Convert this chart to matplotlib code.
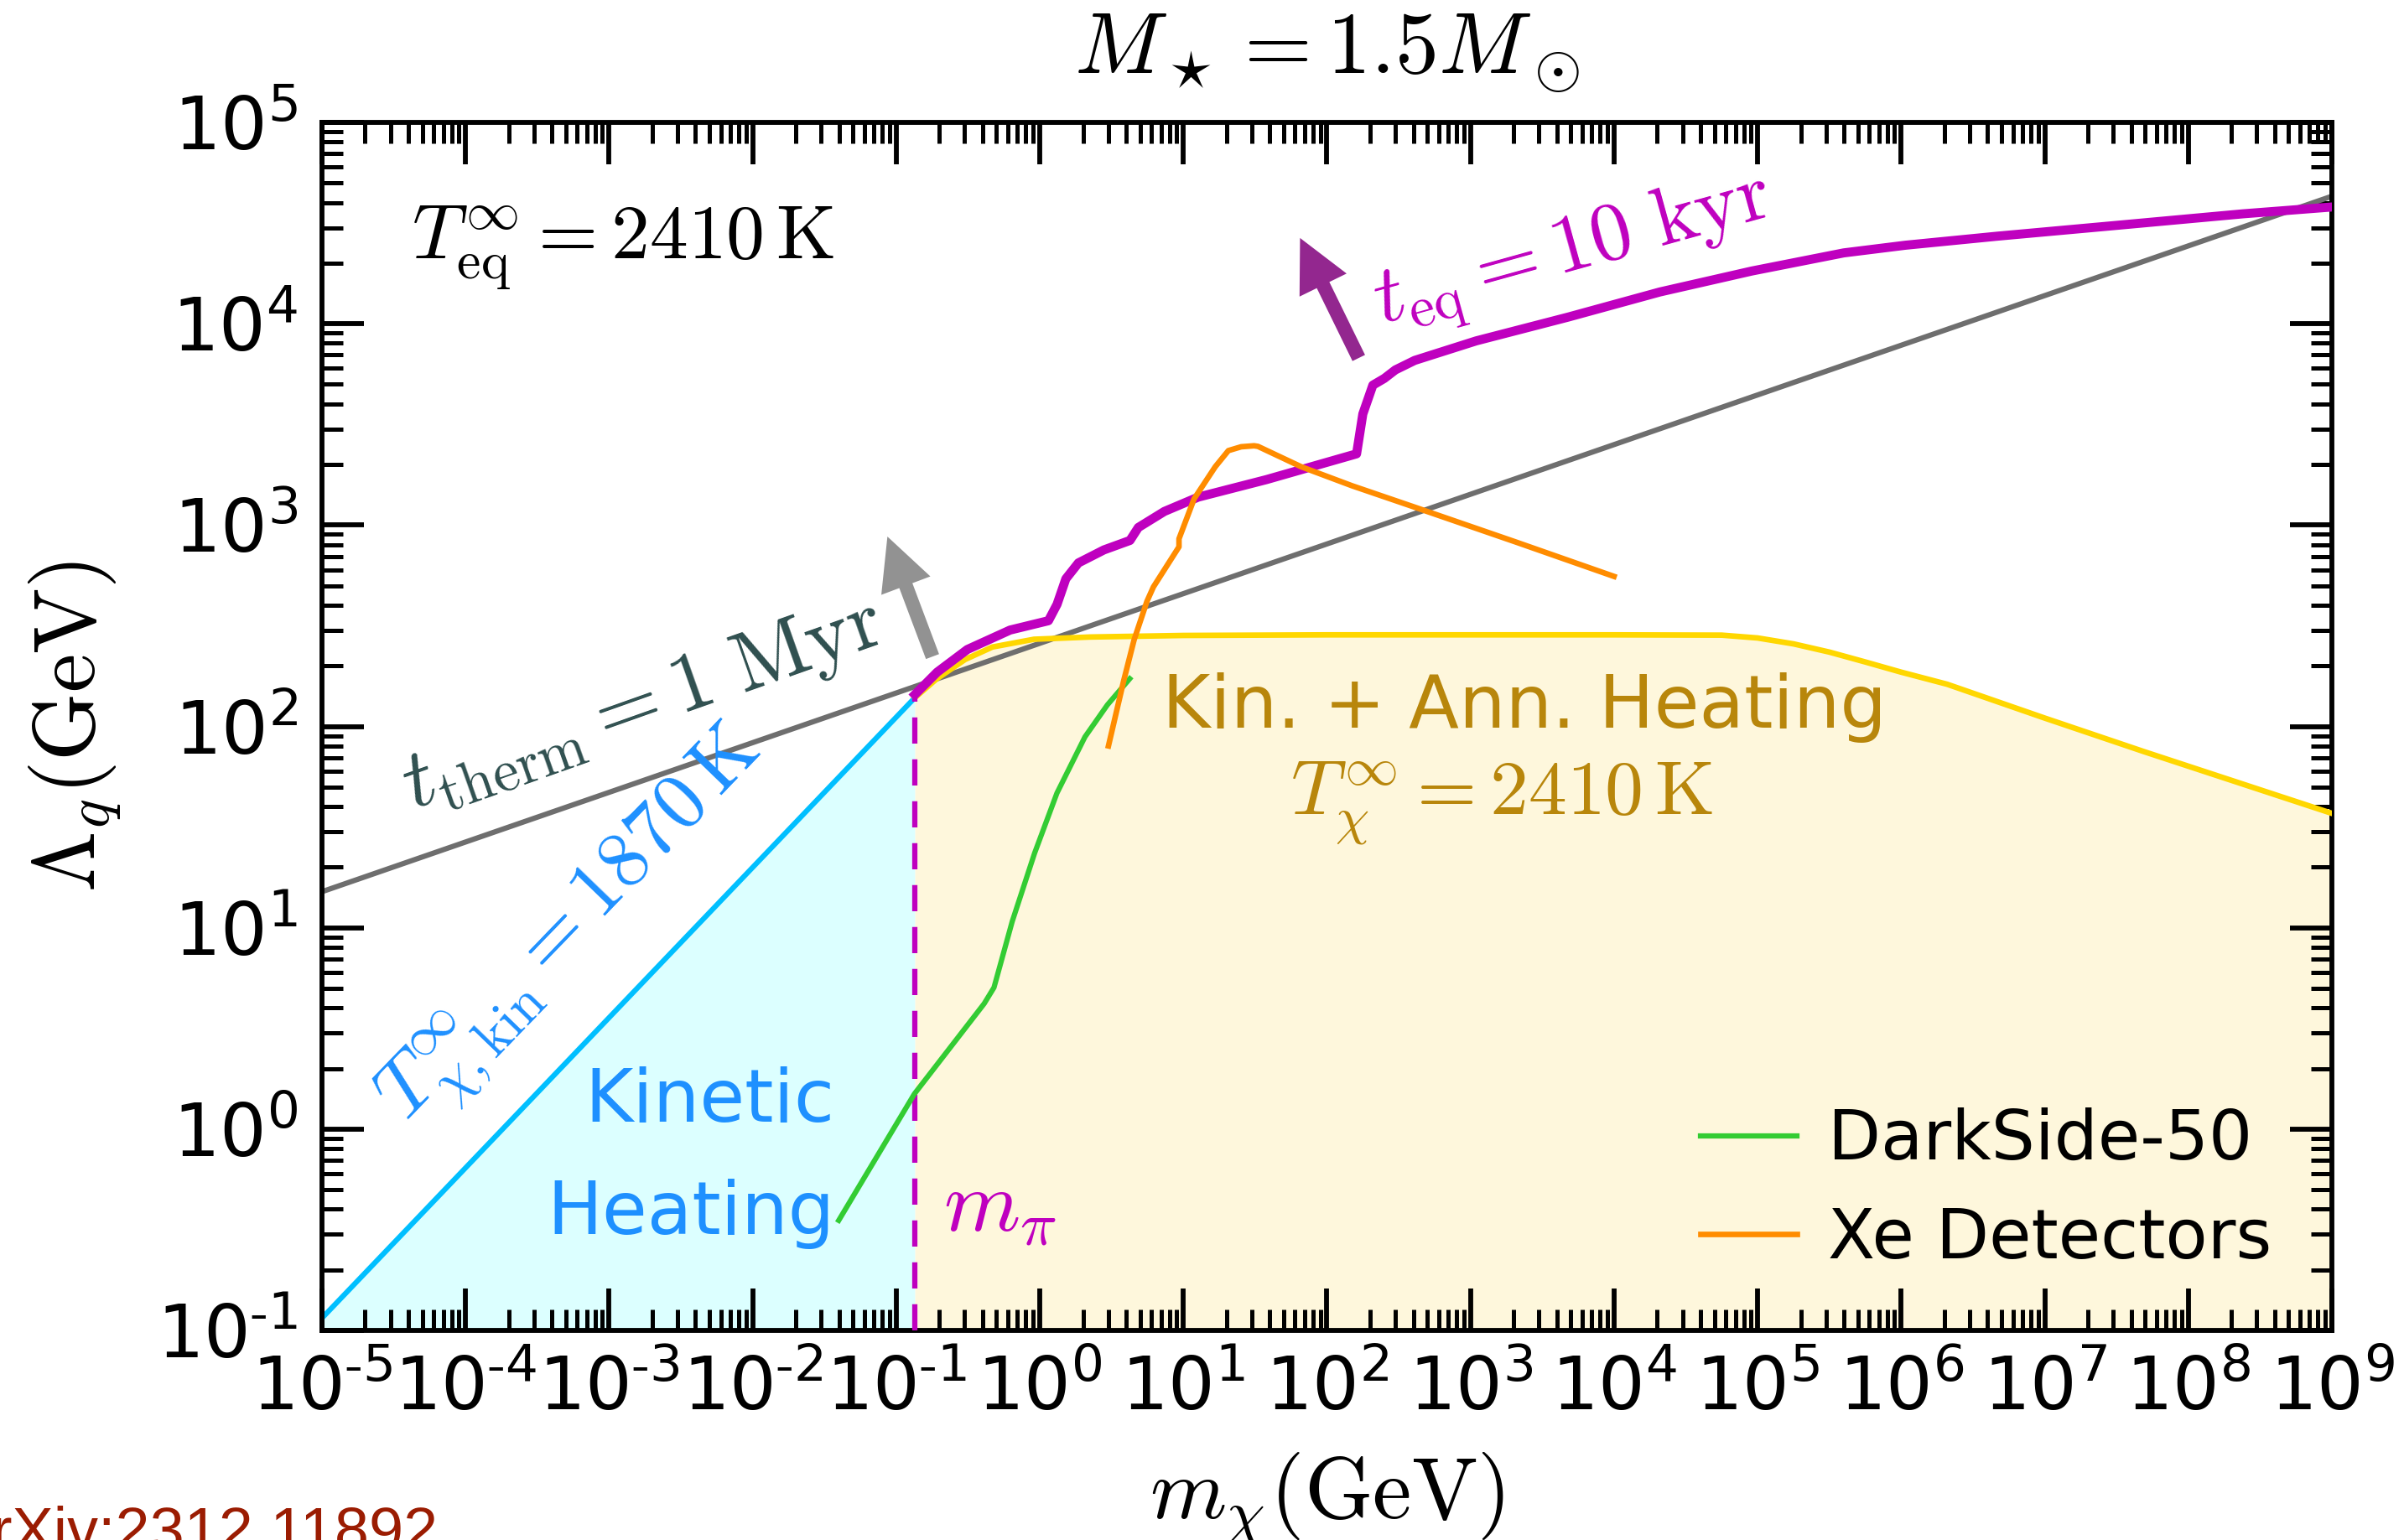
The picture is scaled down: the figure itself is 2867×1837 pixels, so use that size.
import numpy as np
import matplotlib
matplotlib.use('Agg')
import matplotlib.pyplot as plt
from matplotlib.ticker import LogLocator, FuncFormatter, NullFormatter

plt.rcParams['mathtext.fontset'] = 'cm'
plt.rcParams['font.family'] = 'DejaVu Sans'

# pion mass threshold (GeV)
m_pi = 0.135

# t_therm = 1 Myr line
therm_x = [1e-5, 1e9]
therm_y = [15.1, 4.3e4]

# kinetic heating boundary, T_kin = 1870 K
kin_x = [1e-5, m_pi]
kin_y = [0.115, 139]

# kinetic + annihilation heating boundary
ann_x = [m_pi, 0.191, 0.302, 0.468, 0.912, 2.24, 10, 100, 1e4, 5.62e4, 1e5,
         1.78e5, 3.16e5, 5.62e5, 1e6, 2.09e6, 1e7, 4.9e7, 1e9]
ann_y = [139, 172, 215, 248, 271, 278, 283, 285, 285, 284, 275,
         257, 234, 209, 186, 162, 110, 75, 37]

# t_eq = 10 kyr curve
teq_x = [m_pi, 0.193, 0.313, 0.621, 1.15, 1.32, 1.52, 1.86, 2.80, 4.25, 4.86,
         7.38, 12.7, 38.0, 161, 178, 209, 251, 300, 409, 1096, 4786,
         2.09e4, 9.12e4, 3.98e5, 1.07e6, 4.68e6, 3.31e7, 2.4e8, 1e9]
teq_y = [144, 186, 241, 301, 335, 404, 541, 649, 753, 839, 973,
         1169, 1377, 1683, 2259, 3565, 4955, 5350, 5900, 6577, 8222, 10790,
         14390, 18280, 22490, 24550, 27230, 30900, 35160, 38020]

# DarkSide-50 limit
ds_x = [0.0398, 0.134, 0.410, 0.480, 0.643, 0.920, 1.318, 2.065, 2.958, 4.236]
ds_y = [0.352, 1.496, 4.198, 5.047, 10.74, 23.44, 46.67, 88.72, 127.9, 172.6]

# Xe detector limits
xe_x = [3.01, 3.83, 4.54, 5.58, 6.19, 9.33, 9.33, 11.9, 16.7, 20.6, 25.3,
        31.1, 33.1, 66.1, 150, 432, 2070, 1e4]
xe_y = [80, 167, 269, 418, 493, 780, 855, 1352, 1950, 2344, 2449,
        2477, 2460, 1950, 1567, 1211, 824, 556]

y_min, y_max = 0.1, 1e5
x_min, x_max = 1e-5, 1e9

fig = plt.figure(figsize=(2867 / 300, 1837 / 300), dpi=300)
ax = fig.add_axes([0.1339, 0.1361, 0.8361, 0.7844])

ax.fill_between(kin_x, y_min, kin_y, color='#dcffff', lw=0, zorder=0)
ax.fill_between(ann_x, y_min, ann_y, color='#fef7dc', lw=0, zorder=0)

ax.plot(therm_x, therm_y, color='#6e6e6e', lw=1.5, zorder=2)
ax.plot(kin_x, kin_y, color='#00bfff', lw=1.5, zorder=2)
ax.plot(ann_x, ann_y, color='gold', lw=1.6, zorder=3)
ax.plot(teq_x, teq_y, color='m', lw=2.6, zorder=4)
ax.plot([m_pi, m_pi], [y_min, teq_y[0]], color='m', lw=1.5, ls=(0, (5, 3)), zorder=4)
l_ds, = ax.plot(ds_x, ds_y, color='#33cc33', lw=1.5, zorder=5, label='DarkSide-50')
l_xe, = ax.plot(xe_x, xe_y, color='darkorange', lw=1.6, zorder=5, label='Xe Detectors')

# arrows showing the direction of faster thermalisation
ax.annotate('', xy=(10**-1.061, 10**2.943), xytext=(10**-0.747, 10**2.347),
            arrowprops=dict(width=4, headwidth=15, headlength=15, shrink=0,
                            color='#929292', lw=0), zorder=6)
ax.annotate('', xy=(10**1.813, 10**4.426), xytext=(10**2.222, 10**3.83),
            arrowprops=dict(width=4, headwidth=15, headlength=15, shrink=0,
                            color='#93278f', lw=0), zorder=6)

ax.set_xscale('log')
ax.set_yscale('log')
ax.set_xlim(x_min, x_max)
ax.set_ylim(y_min, y_max)


def pow_label(v, pos):
    e = int(round(np.log10(v)))
    if e < 0:
        return r'$\mathregular{10^{\text{-}%d}}$' % (-e)
    return r'$\mathregular{10^{%d}}$' % e


for axis in (ax.xaxis, ax.yaxis):
    axis.set_major_locator(LogLocator(base=10, numticks=40))
    axis.set_minor_locator(LogLocator(base=10, subs=np.arange(2, 10), numticks=40))
    axis.set_major_formatter(FuncFormatter(pow_label))
    axis.set_minor_formatter(NullFormatter())

ax.tick_params(which='both', direction='in', top=True, right=True, labelsize=21)
ax.tick_params(which='major', length=12, width=1.4, pad=7)
ax.tick_params(which='minor', length=6, width=1.2)
for s in ax.spines.values():
    s.set_linewidth(1.4)

ax.set_xlabel(r'$m_\chi({\rm GeV})$', fontsize=25)
ax.set_ylabel(r'$\Lambda_q({\rm GeV})$', fontsize=25)
ax.xaxis.set_label_coords(0.5, -0.1)
ax.yaxis.set_label_coords(-0.099, 0.5)
ax.set_title(r'$M_\star = 1.5 M_\odot$', fontsize=25, pad=14)

# annotations
ax.text(0.0446, 0.8866, r'$T^\infty_{\rm eq} = 2410\,{\rm K}$', transform=ax.transAxes,
        fontsize=22, ha='left', va='baseline')
ax.text(10**-2.762, 10**2.107, r'$t_{\rm therm} = 1\ {\rm Myr}$', color='#2f4f4f',
        fontsize=24, rotation=19.5, rotation_mode='anchor', ha='center', va='center')
ax.text(10**-3.226, 10**0.985, r'$T^\infty_{\chi,{\rm kin}} = 1870\,{\rm K}$', color='#1e90ff',
        fontsize=23, rotation=46, rotation_mode='anchor', ha='center', va='center')
ax.text(10**-1.429, 10**0.0375, 'Kinetic', color='#1e90ff', fontsize=21,
        ha='right', va='baseline')
ax.text(10**-1.429, 10**-0.52, 'Heating', color='#1e90ff', fontsize=21,
        ha='right', va='baseline')
ax.text(10**3.375, 10**1.994, 'Kin. + Ann. Heating', color='#b8860b', fontsize=21,
        ha='center', va='baseline')
ax.text(10**3.217, 10**1.566, r'$T^\infty_\chi = 2410\,{\rm K}$', color='#b8860b',
        fontsize=22, ha='center', va='baseline')
ax.text(10**-0.669, 10**-0.502, r'$m_\pi$', color='m', fontsize=25,
        ha='left', va='baseline')
ax.text(10**3.72, 10**4.344, r'$t_{\rm eq} = 10\ {\rm kyr}$', color='m',
        fontsize=23.5, rotation=15.5, rotation_mode='anchor', ha='center', va='center')

ax.legend(handles=[l_ds, l_xe], loc='lower right', frameon=False, fontsize=19.7,
          handlelength=1.4, handletextpad=0.45, labelspacing=0.47,
          borderpad=0, borderaxespad=0, bbox_to_anchor=(0.97, 0.048))

fig.text(-0.0174, -0.007, 'arXiv:2312.11892', family='Liberation Sans',
         fontsize=17.7, color='#9b1c02', ha='left', va='baseline')

fig.savefig('out.png', dpi=300)
